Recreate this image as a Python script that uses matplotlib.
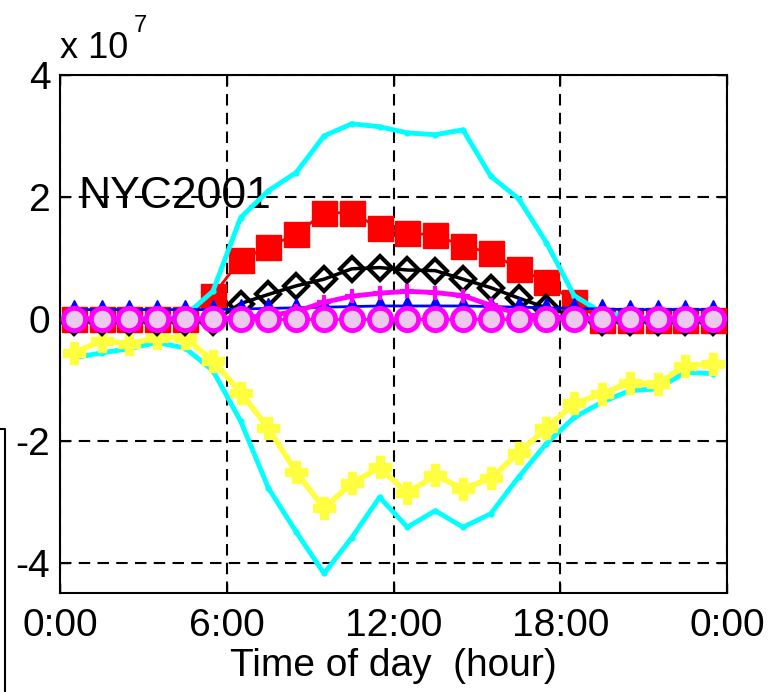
import matplotlib
matplotlib.use("Agg")
from matplotlib import pyplot as plt
from matplotlib.lines import Line2D
import numpy as np

plt.rcParams.update({"font.family": ["Liberation Sans", "DejaVu Sans"]})

# hourly samples, plotted at the middle of each hour (values in units of 1e7)
hours = np.arange(24) + 0.5

cyan_upper = [0, 0, 0, 0, 0.05, 0.45, 1.66, 2.1, 2.4, 3.0, 3.2, 3.15,
              3.05, 3.02, 3.1, 2.34, 1.97, 1.25, 0.38, 0.1, 0.03, 0.02, 0.02, 0.02]
red_sq = [0, 0, 0, 0, 0, 0.38, 0.97, 1.18, 1.39, 1.74, 1.74, 1.49,
          1.41, 1.37, 1.2, 1.08, 0.82, 0.61, 0.27, -0.02, -0.02, -0.02, -0.02, -0.02]
black_dia = [-0.05, -0.05, -0.05, -0.05, -0.05, -0.05, 0.25, 0.4, 0.54, 0.65, 0.82, 0.84,
             0.8, 0.79, 0.65, 0.51, 0.34, 0.18, 0.05, -0.05, -0.05, -0.05, -0.05, -0.05]
blue_tri = [0.15, 0.15, 0.15, 0.15, 0.15, 0.15, 0.16, 0.17, 0.18, 0.19, 0.2, 0.21,
            0.21, 0.21, 0.21, 0.2, 0.19, 0.18, 0.17, 0.16, 0.15, 0.15, 0.15, 0.15]
magenta_plus = [0, 0, 0, 0, 0, 0, 0.02, 0.05, 0.12, 0.27, 0.37, 0.42,
                0.45, 0.43, 0.38, 0.22, 0.08, 0.03, 0.01, 0, 0, 0, 0, 0]
magenta_circ = [0] * 24
yellow_neg = [-0.56, -0.36, -0.41, -0.31, -0.31, -0.69, -1.21, -1.8, -2.52, -3.11, -2.7, -2.44,
              -2.86, -2.57, -2.79, -2.62, -2.2, -1.8, -1.39, -1.23, -1.05, -1.07, -0.77, -0.74]
cyan_lower = [-0.64, -0.56, -0.49, -0.39, -0.48, -0.85, -1.68, -2.78, -3.5, -4.18, -3.59, -2.93,
              -3.42, -3.15, -3.42, -3.2, -2.6, -2.05, -1.62, -1.37, -1.18, -1.15, -0.88, -0.9]

xticks = [0, 6, 12, 18, 24]
xtick_labels = ["0:00", "6:00", "12:00", "18:00", "0:00"]
yticks = [-4, -2, 0, 2, 4]
ytick_labels = ["-4", "-2", "0", "2", "4"]

fig = plt.figure(figsize=(7.82, 6.92), dpi=100)
ax = fig.add_axes([60 / 782, 1 - 593 / 692, 667 / 782, 518 / 692])

ax.plot(hours, cyan_lower, color="cyan", lw=3.5, marker=".", ms=7, zorder=3)
ax.plot(hours, yellow_neg, color="#ffff40", lw=4, marker="P", ms=16, zorder=4)
ax.plot(hours, red_sq, color="red", lw=2, marker="s", ms=18, mfc="red", mec="red", zorder=3)
ax.plot(hours, cyan_upper, color="cyan", lw=3.5, marker=".", ms=7, zorder=4)
ax.plot(hours, black_dia, color="black", lw=2.5, marker="D", ms=12, mfc="none", mew=3, zorder=5)
ax.plot(hours, blue_tri, color="blue", lw=2, marker="^", ms=14, mfc="blue", zorder=6)
ax.plot(hours, magenta_plus, color="magenta", lw=3.5, marker="+", ms=10, mew=3, zorder=6)
ax.plot(hours, magenta_circ, color="magenta", lw=2, marker="o", ms=16, mfc="#ecc8ec",
        mew=3.5, zorder=7)

ax.set_xlim(0, 24)
ax.set_ylim(-4.5, 4)
ax.set_xticks(xticks)
ax.set_xticklabels(xtick_labels)
ax.set_yticks(yticks)
ax.set_yticklabels(ytick_labels)
ax.tick_params(direction="in", length=7, width=1, top=True, right=True,
               labelsize=28, colors="black")
ax.tick_params(axis="x", pad=11)
ax.tick_params(axis="y", pad=7)
ax.grid(True, color="black", linestyle=(0, (5.5, 3.5)), linewidth=1.5)
for s in ax.spines.values():
    s.set_linewidth(1.5)

ax.set_xlabel("Time of day  (hour)", fontsize=28, labelpad=3)
ax.text(0.65, 2, "NYC2001", fontsize=32, va="center", ha="left", zorder=1.5)

fig.text(60 / 782, 1 - 58 / 692, "x 10", fontsize=26, va="baseline", ha="left")
fig.text(134 / 782, 1 - 32 / 692, "7", fontsize=17, va="baseline", ha="left")

# edge of the neighbouring panel
fig.add_artist(Line2D([0, 5 / 782, 5 / 782], [1 - 429 / 692, 1 - 429 / 692, 0],
                      transform=fig.transFigure, color="black", lw=1.5))

fig.savefig("out.png", dpi=100)
